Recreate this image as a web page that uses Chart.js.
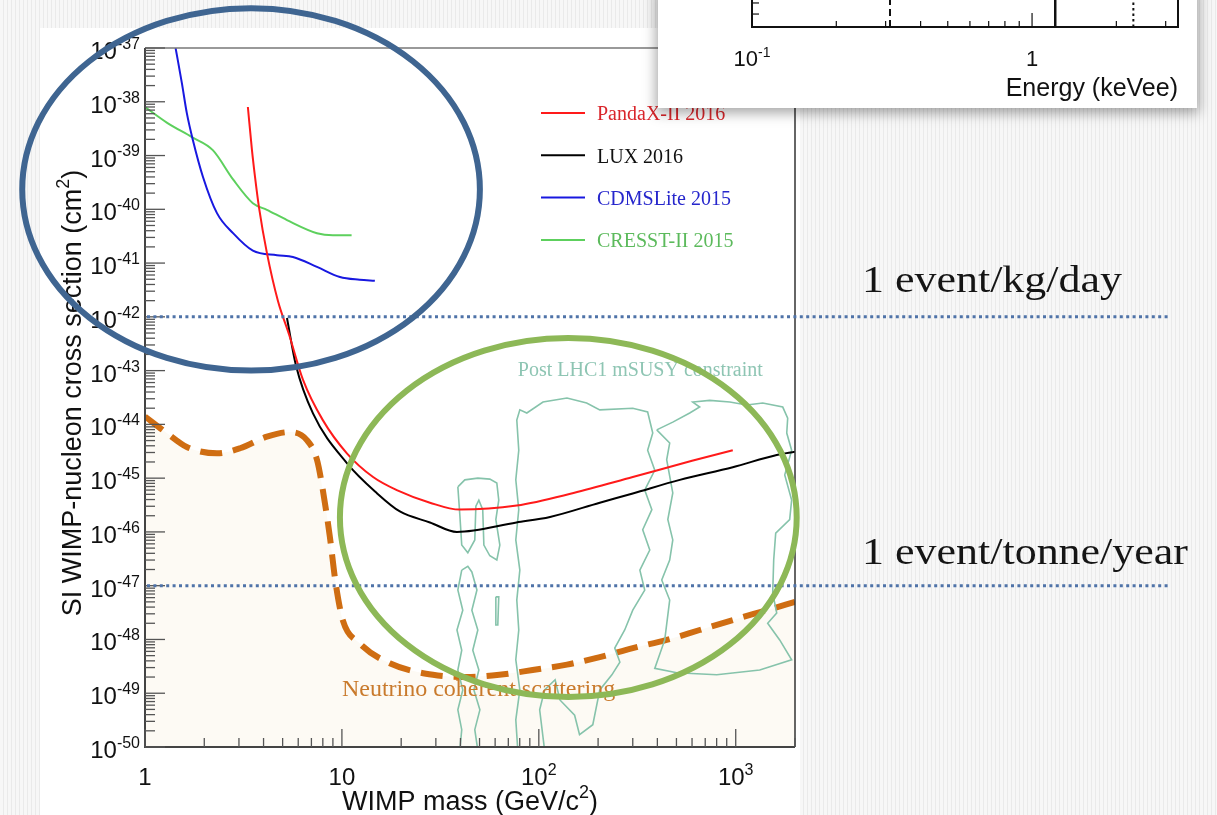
<!DOCTYPE html>
<html>
<head>
<meta charset="utf-8">
<script src="https://cdn.jsdelivr.net/npm/chart.js@4.4.0/dist/chart.umd.min.js"></script>
<style>
  html, body { margin: 0; padding: 0; }
  body {
    width: 1217px; height: 815px; position: relative; overflow: hidden;
    background: repeating-linear-gradient(90deg, #f7f7f7 0px, #f7f7f7 3px, #eaeaea 3px, #eaeaea 4px);
  }
  #panel { position: absolute; left: 40px; top: 28px; width: 760px; height: 787px; background: #fff; }
  #main { position: absolute; left: 0; top: 0; }
  #card {
    position: absolute; left: 658px; top: -12px; width: 539px; height: 120px; background: #fff;
    box-shadow: 0 3px 12px 2px rgba(0, 0, 0, 0.35);
  }
  #inset { position: absolute; left: 0; top: 12px; }
</style>
</head>
<body>
<div id="panel"></div>
<canvas id="main" width="1217" height="815"></canvas>
<div id="card"><canvas id="inset" width="539" height="108"></canvas></div>
<script>
// ---- data (WIMP mass in GeV/c^2, cross section in cm^2) ----
const pandaxMass  = [3.33, 3.49, 3.62, 3.79, 4.16, 4.73, 5.4, 6.34, 8.0, 10.6, 14.4, 19.0, 28, 39.7, 77.3, 150, 300, 600, 966];
const pandaxSigma = [8e-39, 1.3e-39, 4e-40, 1.1e-40, 1.55e-41, 2.0e-42, 4.6e-43, 6.8e-44, 1.2e-44, 2.9e-45, 1.05e-45, 6.0e-46, 3.5e-46, 2.6e-46, 3.1e-46, 5.3e-46, 1.05e-45, 2.1e-45, 3.3e-45];

const luxMass  = [5.26, 5.84, 7.13, 10.6, 15.1, 19.7, 28, 38.4, 77, 114, 204, 300, 520, 966, 1615, 2000];
const luxSigma = [9.5e-43, 1.26e-43, 1.6e-44, 1.9e-45, 5.2e-46, 2.4e-46, 1.5e-46, 1.0e-46, 1.5e-46, 1.9e-46, 3.5e-46, 5.2e-46, 9.3e-46, 1.6e-45, 2.7e-45, 3.1e-45];

const cdmsMass  = [1.43, 1.54, 1.63, 1.75, 1.97, 2.32, 2.80, 3.53, 4.68, 5.64, 7.47, 9.77, 12.3, 14.7];
const cdmsSigma = [1e-37, 2.2e-38, 6.2e-39, 1.95e-39, 4e-40, 8.5e-41, 3.6e-41, 1.7e-41, 1.4e-41, 1.3e-41, 8.5e-42, 5.5e-42, 4.9e-42, 4.7e-42];

const cresstMass  = [1.0, 1.29, 1.73, 2.21, 2.80, 3.53, 4.16, 5.26, 7.47, 9.0, 11.2];
const cresstSigma = [8.0e-39, 4.1e-39, 2.2e-39, 1.26e-39, 3.6e-40, 1.3e-40, 9.8e-41, 6.3e-41, 3.6e-41, 3.3e-41, 3.3e-41];

const nuMass  = [1.0, 1.29, 1.63, 2.32, 3.04, 4.16, 5.45, 6.64, 7.47, 8.0, 8.69, 9.3, 10.1, 12.3, 17.5, 29, 43, 63, 93, 139, 204, 300, 446, 656, 966, 1437, 2000];
const nuSigma = [1.4e-44, 6.9e-45, 3.8e-45, 2.9e-45, 3.6e-45, 5.9e-45, 7.2e-45, 5.1e-45, 2.2e-45, 6e-46, 8e-47, 1.1e-47, 2.3e-48, 8.5e-49, 3.6e-49, 2.2e-49, 2.0e-49, 2.2e-49, 2.7e-49, 3.4e-49, 4.7e-49, 6.9e-49, 9.8e-49, 1.5e-48, 2.3e-48, 3.5e-48, 5.0e-48];

// post LHC1 mSUSY contours (closed outlines)
const susyAMass  = [38.8, 42.1, 49.0, 56.4, 61.2, 62.6, 60.5, 63.4, 61.2, 56.4, 52.6, 51.9, 49.6, 47.9, 47.3, 43.6, 40.6, 39.7, 38.8];
const susyASigma = [6.9e-46, 9.3e-46, 1.0e-45, 9.6e-46, 8.1e-46, 3.9e-46, 1.7e-46, 5.7e-47, 3.0e-47, 3.6e-47, 5.7e-47, 2.6e-46, 3.9e-46, 3.0e-46, 7.1e-47, 4.1e-47, 5.7e-47, 2.1e-46, 6.9e-46];
const susyBMass  = [40.6, 38.8, 41.1, 38.4, 40.6, 38.8, 41.1, 38.8, 40.6, 39.7, 49.0, 47.3, 50.2, 46.8, 49.6, 46.2, 49.0, 45.7, 48.5, 45.7, 43.6, 40.6];
const susyBSigma = [1.95e-47, 8.3e-48, 3.5e-48, 1.5e-48, 6.3e-49, 2.7e-49, 1.15e-49, 4.9e-50, 2.1e-50, 8.7e-51, 8.7e-51, 2.1e-50, 4.9e-50, 1.15e-49, 2.7e-49, 6.3e-49, 1.5e-48, 3.5e-48, 8.3e-48, 1.8e-47, 2.3e-47, 1.95e-47];
const susyCMass  = [60.5, 62.6, 61.9, 60.5, 60.5];
const susyCSigma = [6.2e-48, 6.2e-48, 1.86e-48, 1.86e-48, 6.2e-48];
const susyDMass  = [78.2, 76.4, 80.1, 76.4, 79.1, 77.3, 80.1, 76.4, 79.1, 76.4, 79.1, 77.3, 80.1, 86.9, 105, 139, 175, 204, 300, 357, 379, 357, 388, 345, 375, 337, 366, 326, 345, 300, 273, 243, 258, 235, 204, 188, 161, 152, 128, 121, 107, 101, 107];
const susyDSigma = [8.7e-51, 3.2e-50, 1.15e-49, 4.2e-49, 1.5e-48, 5.4e-48, 1.95e-47, 7.1e-47, 2.6e-46, 9.3e-46, 3.3e-45, 1.2e-44, 1.86e-44, 1.63e-44, 2.6e-44, 3.1e-44, 2.5e-44, 1.86e-44, 2.0e-44, 1.7e-44, 6.9e-45, 3.3e-45, 1.4e-45, 6.0e-46, 2.6e-46, 1.1e-46, 4.6e-47, 1.95e-47, 8.3e-48, 3.5e-48, 1.5e-48, 6.9e-49, 3.8e-49, 2.2e-49, 1.15e-49, 2.6e-50, 1.7e-50, 3.9e-50, 7.5e-50, 1.78e-49, 1.15e-49, 4.9e-50, 8.7e-51];
const susyEMass  = [397, 479, 584, 656, 605, 738, 933, 1137, 1371, 1733, 1836, 1816, 1923, 1774, 1923, 1879, 1596, 1559, 1541, 1615, 1453, 1672, 1923, 1324, 801, 502, 388, 436, 462, 421, 462, 479, 452, 479, 446, 462, 397];
const susyESigma = [7.9e-45, 1.1e-44, 1.63e-44, 2.1e-44, 2.6e-44, 2.8e-44, 2.6e-44, 2.3e-44, 2.5e-44, 2.1e-44, 1.3e-44, 6.9e-45, 3.3e-45, 1.15e-45, 3.9e-46, 1.7e-46, 9.5e-47, 3.0e-47, 7.3e-48, 3.1e-48, 2.0e-48, 9.8e-49, 4.2e-49, 2.7e-49, 2.2e-49, 2.4e-49, 2.9e-49, 9.8e-49, 5.4e-48, 1.28e-47, 3.0e-47, 7.1e-47, 1.7e-46, 5.3e-46, 2.2e-45, 4.5e-45, 7.9e-45];

// axis ranges and tick labels
const massRange  = [1, 2000];
const sigmaRange = [1e-50, 1e-37];
const xTickValues = [1, 10, 100, 1000];
const xTickLabels = [['1', ''], ['10', ''], ['10', '2'], ['10', '3']];
const yTickExps = [-50, -49, -48, -47, -46, -45, -44, -43, -42, -41, -40, -39, -38, -37];

const legendLabels = ['PandaX-II 2016', 'LUX 2016', 'CDMSLite 2015', 'CRESST-II 2015'];

// rate reference lines and highlighted regions
const rateSigma  = [1e-42, 1e-47];
const rateLabels = ['1 event/kg/day', '1 event/tonne/year'];
const rateMass   = [1, 1.6e5];
const blueRingMass  = [0.238, 50.2];
const blueRingSigma = [1.0e-43, 5.5e-37];
const greenRingMass  = [9.77, 2040];
const greenRingSigma = [8.5e-50, 4.05e-43];

// inset (energy threshold panel)
const energyRange = [0.1, 3.32];
const energyCuts = [0.311, 1.21, 2.3];
const energyTicks = [0.1, 0.2, 0.3, 0.4, 0.5, 0.6, 0.7, 0.8, 0.9, 1, 2, 3];
const insetYTicks = [0.48, 0.89];

const SANS = "'Liberation Sans', Arial, sans-serif";
const SERIF = "'Liberation Serif', 'Times New Roman', serif";

function pts(xs, ys) {
    return xs.map((x, i) => ({ x: x, y: ys[i] }));
}

function curve(xs, ys, color) {
    return {
        data: pts(xs, ys), borderColor: color, borderWidth: 2, pointRadius: 0,
        cubicInterpolationMode: 'monotone', fill: false, order: 1
    };
}

function contour(xs, ys) {
    return {
        data: pts(xs, ys), borderColor: '#86c3ab', borderWidth: 1.6, pointRadius: 0,
        tension: 0, fill: false, order: 5
    };
}

// "10" with a superscript exponent
function drawPow(ctx, base, exp, x, y, align, size, supSize) {
    ctx.font = size + 'px ' + SANS;
    const wb = ctx.measureText(base).width;
    ctx.font = supSize + 'px ' + SANS;
    const we = exp ? ctx.measureText(exp).width : 0;
    const total = wb + we;
    const x0 = align === 'right' ? x - total : (align === 'center' ? x - total / 2 : x);
    ctx.textAlign = 'left';
    ctx.textBaseline = 'alphabetic';
    ctx.font = size + 'px ' + SANS;
    ctx.fillText(base, x0, y);
    if (exp) {
        ctx.font = supSize + 'px ' + SANS;
        ctx.fillText(exp, x0 + wb, y - size * 0.42);
    }
}

function seg(ctx, x1, y1, x2, y2) {
    ctx.beginPath();
    ctx.moveTo(x1, y1);
    ctx.lineTo(x2, y2);
    ctx.stroke();
}

const decorations = {
    id: 'decorations',
    afterDatasetsDraw(chart) {
        const ctx = chart.ctx;
        const xs = chart.scales.x, ys = chart.scales.y;
        const a = chart.chartArea;
        ctx.save();

        // frame
        ctx.strokeStyle = '#777';
        ctx.lineWidth = 1.5;
        seg(ctx, a.left, a.top, a.right, a.top);
        ctx.strokeStyle = '#333';
        seg(ctx, a.right, a.top, a.right, a.bottom);
        ctx.lineWidth = 2;
        ctx.strokeStyle = '#444';
        seg(ctx, a.left, a.top, a.left, a.bottom + 1);
        seg(ctx, a.left - 1, a.bottom, a.right, a.bottom);

        // ticks (inside the frame)
        ctx.lineWidth = 1.3;
        ctx.strokeStyle = '#555';
        yTickExps.forEach(e => {
            for (let k = 1; k <= 9; k++) {
                const v = k * Math.pow(10, e);
                if (v > sigmaRange[1] * 1.0001) break;
                const py = ys.getPixelForValue(v);
                seg(ctx, a.left, py, a.left + (k === 1 ? 20 : 10), py);
            }
        });
        xTickValues.forEach(d => {
            for (let k = 1; k <= 9; k++) {
                const v = k * d;
                if (v > massRange[1] * 1.0001) break;
                const px = xs.getPixelForValue(v);
                seg(ctx, px, a.bottom, px, a.bottom - (k === 1 ? 18 : 9));
            }
        });

        // tick labels
        ctx.fillStyle = '#111';
        yTickExps.forEach(e => {
            const py = ys.getPixelForValue(Math.pow(10, e));
            drawPow(ctx, '10', String(e), a.left - 5, py + 11, 'right', 24, 16);
        });
        xTickValues.forEach((v, i) => {
            const px = xs.getPixelForValue(v);
            drawPow(ctx, xTickLabels[i][0], xTickLabels[i][1], px, a.bottom + 38, 'center', 24, 16);
        });

        // axis titles
        ctx.fillStyle = '#111';
        ctx.font = '27px ' + SANS;
        const xt1 = 'WIMP mass (GeV/c', xt2 = ')';
        const w1 = ctx.measureText(xt1).width;
        ctx.font = '18px ' + SANS;
        const ws = ctx.measureText('2').width;
        ctx.font = '27px ' + SANS;
        const w2 = ctx.measureText(xt2).width;
        let x0 = 470 - (w1 + ws + w2) / 2;
        ctx.textAlign = 'left';
        ctx.fillText(xt1, x0, 810);
        ctx.font = '18px ' + SANS;
        ctx.fillText('2', x0 + w1, 798);
        ctx.font = '27px ' + SANS;
        ctx.fillText(xt2, x0 + w1 + ws, 810);

        ctx.save();
        ctx.translate(81, 393);
        ctx.rotate(-Math.PI / 2);
        const yt1 = 'SI WIMP-nucleon cross section (cm';
        ctx.font = '27px ' + SANS;
        const v1 = ctx.measureText(yt1).width;
        const v2 = ctx.measureText(')').width;
        ctx.font = '18px ' + SANS;
        const vs = ctx.measureText('2').width;
        x0 = -(v1 + vs + v2) / 2;
        ctx.font = '27px ' + SANS;
        ctx.fillText(yt1, x0, 0);
        ctx.font = '18px ' + SANS;
        ctx.fillText('2', x0 + v1, -12);
        ctx.font = '27px ' + SANS;
        ctx.fillText(')', x0 + v1 + vs, 0);
        ctx.restore();

        // legend
        ctx.font = '20px ' + SERIF;
        ctx.textBaseline = 'middle';
        const legendText = ['#d9262b', '#111111', '#2626cc', '#5cba5c'];
        legendLabels.forEach((lab, i) => {
            const ds = chart.data.datasets[i];
            const ly = 113 + i * 42.3;
            ctx.strokeStyle = ds.borderColor;
            ctx.lineWidth = 2;
            seg(ctx, a.left + 396, ly, a.left + 440, ly);
            ctx.fillStyle = legendText[i];
            ctx.fillText(lab, a.left + 452, ly + 2);
        });

        // region labels
        ctx.fillStyle = '#8ec5b3';
        ctx.font = '20px ' + SERIF;
        ctx.fillText('Post LHC1 mSUSY constraint', xs.getPixelForValue(78.2), ys.getPixelForValue(1e-43));
        ctx.fillStyle = '#c97a2c';
        ctx.font = '24px ' + SERIF;
        ctx.fillText('Neutrino coherent scattering', xs.getPixelForValue(10), ys.getPixelForValue(1.15e-49));

        // event-rate dotted lines
        ctx.strokeStyle = '#4f73a8';
        ctx.lineWidth = 3;
        ctx.setLineDash([3, 3.4]);
        rateSigma.forEach(s => {
            const py = ys.getPixelForValue(s);
            seg(ctx, xs.getPixelForValue(rateMass[0]) + 2, py, xs.getPixelForValue(rateMass[1]), py);
        });
        ctx.setLineDash([]);

        // highlight rings
        const ring = (mx, sy, color) => {
            const l = xs.getPixelForValue(mx[0]), r = xs.getPixelForValue(mx[1]);
            const b = ys.getPixelForValue(sy[0]), t = ys.getPixelForValue(sy[1]);
            ctx.strokeStyle = color;
            ctx.lineWidth = 6;
            ctx.beginPath();
            ctx.ellipse((l + r) / 2, (t + b) / 2, (r - l) / 2, (b - t) / 2, 0, 0, Math.PI * 2);
            ctx.stroke();
        };
        ring(blueRingMass, blueRingSigma, '#3f6591');
        ring(greenRingMass, greenRingSigma, '#8db857');

        // rate labels, right of the plot
        ctx.fillStyle = '#151515';
        ctx.textBaseline = 'alphabetic';
        const widths = [260, 326];
        rateLabels.forEach((t, i) => {
            const py = ys.getPixelForValue(rateSigma[i]);
            ctx.font = '37px ' + SERIF;
            const w = ctx.measureText(t).width;
            ctx.save();
            ctx.translate(862, py - (i === 0 ? 25 : 22));
            ctx.scale(widths[i] / w, 1);
            ctx.fillText(t, 0, 0);
            ctx.restore();
        });

        ctx.restore();
    }
};

const mainChart = new Chart(document.getElementById('main'), {
    type: 'line',
    data: {
        datasets: [
            curve(pandaxMass, pandaxSigma, '#ff1a1a'),
            curve(luxMass, luxSigma, '#000000'),
            curve(cdmsMass, cdmsSigma, '#1818e0'),
            curve(cresstMass, cresstSigma, '#5dd05d'),
            contour(susyAMass, susyASigma),
            contour(susyBMass, susyBSigma),
            contour(susyCMass, susyCSigma),
            contour(susyDMass, susyDSigma),
            contour(susyEMass, susyESigma),
            {
                data: pts(nuMass, nuSigma), borderColor: '#cf6d12', borderWidth: 6,
                borderDash: [22, 11], pointRadius: 0, cubicInterpolationMode: 'monotone',
                fill: 'start', backgroundColor: '#fdfaf4', order: 10
            }
        ]
    },
    options: {
        responsive: false,
        animation: false,
        layout: { padding: { left: 145, right: 422, top: 48, bottom: 68 } },
        plugins: { legend: { display: false }, tooltip: { enabled: false } },
        scales: {
            x: { type: 'logarithmic', min: massRange[0], max: massRange[1], display: false },
            y: { type: 'logarithmic', min: sigmaRange[0], max: sigmaRange[1], display: false }
        }
    },
    plugins: [decorations]
});

// inset: energy axis with threshold lines
const cutDashes = [[7, 4], [], [2.5, 3]];
const cutWidths = [2, 2.5, 2];

const insetDeco = {
    id: 'insetDeco',
    afterDatasetsDraw(chart) {
        const ctx = chart.ctx;
        const xs = chart.scales.x, ys = chart.scales.y;
        const a = chart.chartArea;
        ctx.save();
        ctx.strokeStyle = '#111';
        ctx.lineWidth = 2;
        seg(ctx, a.left, 0, a.left, a.bottom + 1);
        seg(ctx, a.right, 0, a.right, a.bottom + 1);
        seg(ctx, a.left - 1, a.bottom, a.right + 1, a.bottom);
        ctx.lineWidth = 1.2;
        energyTicks.forEach(v => {
            const px = xs.getPixelForValue(v);
            const major = (v === 0.1 || v === 1);
            seg(ctx, px, a.bottom, px, a.bottom - (major ? 14 : 6));
        });
        insetYTicks.forEach(v => {
            const py = ys.getPixelForValue(v);
            seg(ctx, a.left, py, a.left + 7, py);
        });
        ctx.fillStyle = '#111';
        drawPow(ctx, '10', '-1', xs.getPixelForValue(0.1), 66, 'center', 22, 14);
        drawPow(ctx, '1', '', xs.getPixelForValue(1), 66, 'center', 22, 14);
        ctx.font = '25px ' + SANS;
        ctx.textAlign = 'right';
        ctx.fillText('Energy (keVee)', a.right, 96);
        ctx.restore();
    }
};

const insetChart = new Chart(document.getElementById('inset'), {
    type: 'line',
    data: {
        datasets: energyCuts.map((e, i) => ({
            data: [{ x: e, y: 0 }, { x: e, y: 1 }],
            borderColor: '#111', borderWidth: cutWidths[i], borderDash: cutDashes[i],
            pointRadius: 0, fill: false
        }))
    },
    options: {
        responsive: false,
        animation: false,
        layout: { padding: { left: 94, right: 19, top: 0, bottom: 81 } },
        plugins: { legend: { display: false }, tooltip: { enabled: false } },
        scales: {
            x: { type: 'logarithmic', min: energyRange[0], max: energyRange[1], display: false },
            y: { type: 'linear', min: 0, max: 1, display: false }
        }
    },
    plugins: [insetDeco]
});
</script>
</body>
</html>
